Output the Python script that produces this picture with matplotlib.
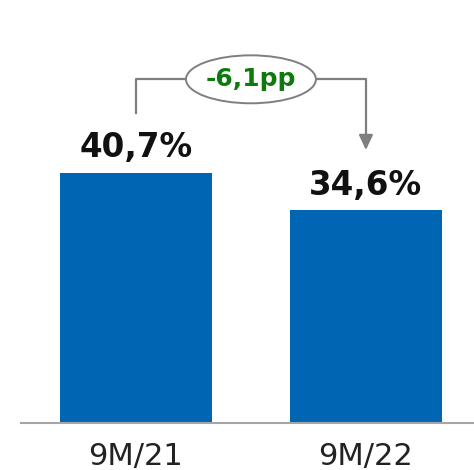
import matplotlib
matplotlib.use("Agg")
import matplotlib.pyplot as plt
from matplotlib.patches import Ellipse

categories = ["9M/21", "9M/22"]
values = [40.7, 34.6]
value_labels = ["40,7%", "34,6%"]
delta_label = "-6,1pp"

BLUE = "#0066B3"
GRAY = "#7F7F7F"
GREEN = "#0E7A0E"

fig = plt.figure(figsize=(4.74, 4.70), dpi=100)
ax = fig.add_axes([21/474, 47/470, 453/474, 423/470])
x = list(range(len(categories)))
ax.bar(x, values, width=0.66, color=BLUE, zorder=2)
ax.set_xlim(-0.5, 1.47)
ax.set_ylim(0, 68.8)

for s in ["top", "right", "left"]:
    ax.spines[s].set_visible(False)
ax.spines["bottom"].set_color("#A6A6A6")
ax.spines["bottom"].set_linewidth(1.5)
ax.set_yticks([])
ax.set_xticks(x)
ax.set_xticklabels(categories, fontsize=22, color="#222222")
ax.tick_params(axis="x", length=0, pad=13.5)

for xi, v, lab in zip(x, values, value_labels):
    ax.annotate(lab, (xi, v), xytext=(0, 11), textcoords="offset points",
                ha="center", va="baseline", fontsize=23.5, fontweight="bold",
                color="#111111")

# bracket annotation
y_top = 55.9
ax.plot([x[0], x[0], x[1], x[1]], [values[0] + 9.7, y_top, y_top, values[1] + 12.0],
        color=GRAY, lw=1.6, zorder=3)
ax.annotate("", xy=(x[1], values[1] + 9.8), xytext=(x[1], values[1] + 12.5),
            arrowprops=dict(arrowstyle="-|>,head_length=0.9,head_width=0.42",
                            color=GRAY, lw=1.6, shrinkA=0, shrinkB=0), zorder=3)
mid = (x[0] + x[1]) / 2
ax.add_patch(Ellipse((mid, y_top), 0.565, 7.8, facecolor="white",
                     edgecolor=GRAY, lw=1.4, zorder=4))
ax.text(mid, y_top, delta_label, ha="center", va="center", fontsize=18,
        fontweight="bold", color=GREEN, zorder=5)

fig.savefig("out.png", dpi=100)
